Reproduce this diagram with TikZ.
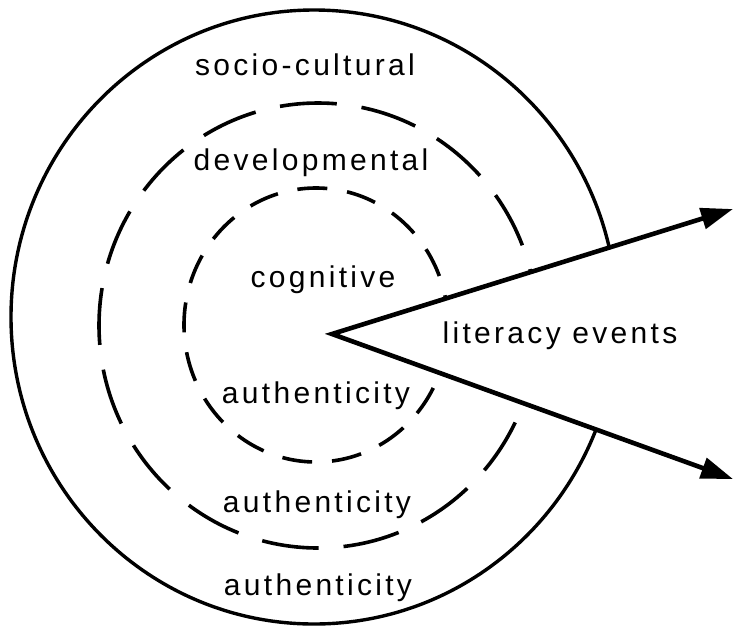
\documentclass[tikz,border=0pt]{standalone}
\usepackage{fontspec}
\setmainfont{Liberation Sans}[LetterSpace=11]
\usetikzlibrary{arrows.meta}
\begin{document}
\begin{tikzpicture}[x=1pt,y=-1pt,
  ring/.style={line width=3.4pt},
  ringlong/.style={line width=3.6pt, dash pattern=on 57pt off 25pt},
  ringshort/.style={line width=3.6pt, dash pattern=on 30pt off 20pt},
  lbl/.style={font=\fontsize{30}{36}\selectfont, anchor=base, inner sep=0pt},
  flow/.style={line width=4.6pt, line join=miter,
    {Triangle[length=32pt,width=21pt]}-{Triangle[length=32pt,width=21pt]}}]
\useasboundingbox (0,0) rectangle (733,625);

% the three contexts
\draw[ring]      (314,317)   ellipse [x radius=303pt, y radius=307pt];
\draw[ringlong]  (318,325.5) ellipse [x radius=219pt, y radius=222.5pt];
\draw[ringshort] (316,325)   ellipse [x radius=132pt, y radius=137pt];

% the wedge of literacy events
\coordinate (apex) at (332,334);
\coordinate (tipU) at (733,209);
\coordinate (tipL) at (733,479);
\fill[white] (apex) -- (740,207) -- (740,481) -- cycle;
\draw[flow] (tipU) -- (apex) -- (tipL);

% labels
\node[lbl] (socio)  at (305,75)  {socio-cultural};
\node[lbl] (devel)  at (311,170) {developmental};
\node[lbl] (cogn)   at (323,287) {cognitive};
\node[lbl] (authA)  at (316,403) {authenticity};
\node[lbl] (authB)  at (317,512) {authenticity};
\node[lbl] (authC)  at (318,595) {authenticity};
\node[lbl] (events) at (560,343) {literacy events};
\end{tikzpicture}
\end{document}
